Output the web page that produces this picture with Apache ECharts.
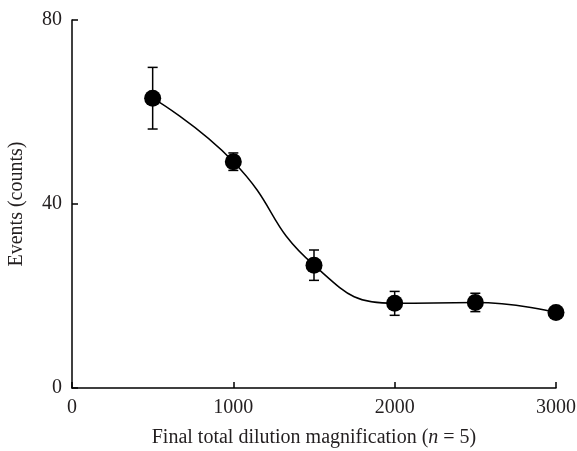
<!DOCTYPE html>
<html>
<head>
<meta charset="utf-8">
<script src="https://cdn.jsdelivr.net/npm/echarts@6/dist/echarts.min.js"></script>
<style>html,body{margin:0;padding:0;background:#fff}#c{width:577px;height:451px}</style>
</head>
<body>
<div id="c"></div>
<script>
const dilution = [500, 1000, 1500, 2000, 2500, 3000];
const events = [63.0, 49.2, 26.7, 18.4, 18.6, 16.4];
const errors = [6.7, 1.9, 3.3, 2.6, 2.0, 1.0];
const xTicks = [0, 1000, 2000, 3000];
const yTicks = [0, 40, 80];

const font = '"Liberation Serif", "DejaVu Serif", serif';
const textColor = '#231f20';
const fs = 20;
const chart = echarts.init(document.getElementById('c'), null, {renderer: 'canvas'});
const pts = dilution.map((x, i) => [x, events[i]]);
const errData = dilution.map((x, i) => [x, events[i] - errors[i], events[i] + errors[i]]);

chart.setOption({
  animation: false,
  backgroundColor: '#fff',
  grid: {left: 72, right: 21, top: 20, bottom: 63, containLabel: false, outerBoundsMode: 'none'},
  xAxis: {
    type: 'value', min: xTicks[0], max: xTicks[xTicks.length - 1], interval: 1000,
    name: '{a|Final total dilution magnification (}{i|n}{a| = 5)}',
    nameLocation: 'middle', nameGap: 40,
    nameTextStyle: {rich: {
      a: {fontFamily: font, fontSize: fs, color: textColor},
      i: {fontFamily: font, fontSize: fs, color: textColor, fontStyle: 'italic'}
    }},
    axisLine: {lineStyle: {color: '#000', width: 1.5}},
    axisTick: {inside: true, length: 6, lineStyle: {color: '#000', width: 1.5}},
    axisLabel: {fontFamily: font, fontSize: fs, color: textColor, margin: 10, formatter: v => String(v)},
    splitLine: {show: false}
  },
  yAxis: {
    type: 'value', min: yTicks[0], max: yTicks[yTicks.length - 1], interval: 40,
    name: 'Events (counts)', nameLocation: 'middle', nameGap: 45,
    nameTextStyle: {fontFamily: font, fontSize: fs, color: textColor},
    axisLine: {lineStyle: {color: '#000', width: 1.5}},
    axisTick: {inside: true, length: 6, lineStyle: {color: '#000', width: 1.5}},
    axisLabel: {fontFamily: font, fontSize: fs, color: textColor, margin: 10, formatter: v => String(v)},
    splitLine: {show: false}
  },
  series: [
    {
      type: 'custom',
      z: 1,
      data: errData,
      renderItem: function (params, api) {
        const x = api.value(0);
        const lo = api.coord([x, api.value(1)]);
        const hi = api.coord([x, api.value(2)]);
        const w = 5;
        const st = {stroke: '#000', lineWidth: 1.5};
        return {type: 'group', children: [
          {type: 'line', shape: {x1: lo[0], y1: lo[1], x2: hi[0], y2: hi[1]}, style: st},
          {type: 'line', shape: {x1: lo[0] - w, y1: lo[1], x2: lo[0] + w, y2: lo[1]}, style: st},
          {type: 'line', shape: {x1: hi[0] - w, y1: hi[1], x2: hi[0] + w, y2: hi[1]}, style: st}
        ]};
      }
    },
    {
      type: 'line',
      z: 3,
      data: pts,
      smooth: 0.5,
      symbol: 'circle',
      symbolSize: 17,
      lineStyle: {color: '#000', width: 1.5},
      itemStyle: {color: '#000'}
    }
  ]
});
</script>
</body>
</html>
